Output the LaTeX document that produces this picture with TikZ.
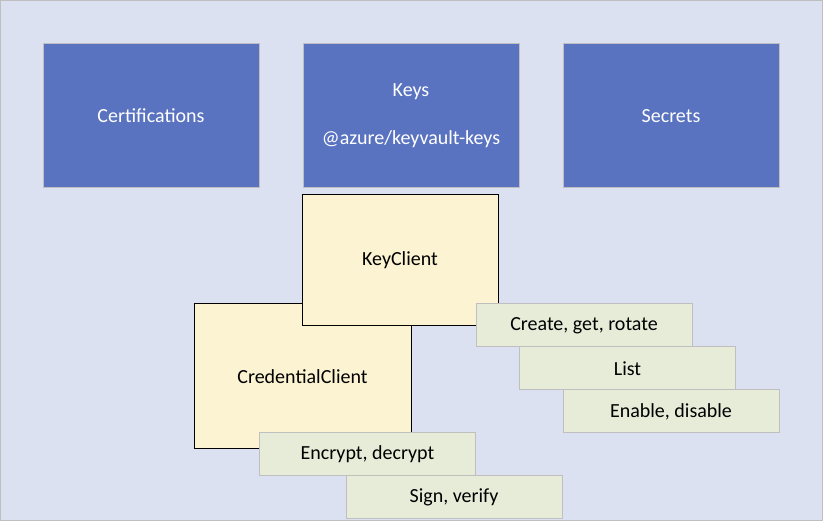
\documentclass[tikz,border=0pt]{standalone}
\usepackage{fontspec}
\setmainfont{Carlito}
\definecolor{bgcol}{HTML}{DCE1F2}
\definecolor{bluebox}{HTML}{5A73C0}
\definecolor{yellowbox}{HTML}{FBF3D1}
\definecolor{greenbox}{HTML}{E6ECD8}
\definecolor{edgegray}{HTML}{BFBFBF}
\tikzset{
  area/.style={draw=edgegray, fill=bluebox, text=white, minimum width=216pt, minimum height=144pt, inner sep=0pt, line width=1pt, align=center},
  client/.style={draw=black, fill=yellowbox, inner sep=0pt, line width=1pt},
  op/.style={draw=edgegray, fill=greenbox, minimum width=216pt, minimum height=43pt, inner sep=0pt, line width=1pt}
}
\begin{document}
\begin{tikzpicture}[x=1pt,y=-1pt,font=\fontsize{20}{24}\selectfont]
\draw[fill=bgcol, draw=edgegray, line width=1pt] (0.5,0.5) rectangle (822.5,520.5);
\useasboundingbox (0,0) rectangle (823,521);
\node[area] (Cert) at (151,116) {Certifications};
\node[area] (Keys) at (411,116) {Keys\\[24pt]@azure/keyvault-keys};
\node[area] (Sec) at (671,116) {Secrets};
\node[client, minimum width=217pt, minimum height=145pt] (Cred) at (302.5,376.5) {CredentialClient};
\node[client, minimum width=196pt, minimum height=131pt] (KC) at (400,260.5) {KeyClient};
\node[op] (Create) at (584,325.5) {Create, get, rotate};
\node[op] (List) at (627.5,368.5) {List};
\node[op] (Enable) at (671,411.5) {Enable, disable};
\node[op] (Encrypt) at (367.5,454.5) {Encrypt, decrypt};
\node[op] (Sign) at (454,497.5) {Sign, verify};
\end{tikzpicture}
\end{document}
